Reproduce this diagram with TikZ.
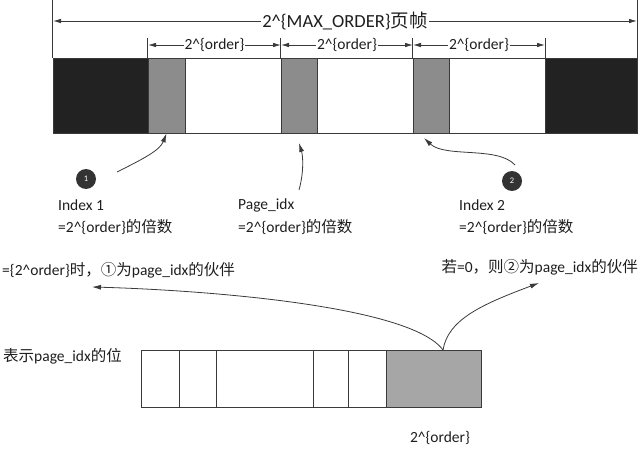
\documentclass[tikz,border=0pt]{standalone}
\usepackage{fontspec}
\setmainfont{Carlito}
\newfontfamily\cjk{Noto Sans CJK SC}
\usetikzlibrary{arrows.meta,calc}
\definecolor{linec}{HTML}{3A3A3A}
\definecolor{blk}{HTML}{222222}
\definecolor{gry}{HTML}{8C8C8C}
\definecolor{lgry}{HTML}{A6A6A6}
\definecolor{txt}{HTML}{1E1E1E}
\definecolor{badgec}{HTML}{333333}

\begin{document}
\begin{tikzpicture}[x=1pt,y=-1pt,
  cell/.style={draw=linec,line width=0.9pt,inner sep=0pt},
  lbl/.style={text=txt,font=\fontsize{15.5}{21}\selectfont,inner sep=0pt},
  tickline/.style={draw=linec,line width=0.8pt},
  dimline/.style={draw=linec,line width=0.8pt,
    {Latex[length=8pt,width=4.5pt]}-{Latex[length=8pt,width=4.5pt]}},
  ptr/.style={draw=linec,line width=0.8pt,-{Latex[length=9pt,width=5pt]}},
  badge/.style={circle,fill=badgec,text=white,minimum size=20pt,
    inner sep=0pt,font=\fontsize{8.5}{8.5}\selectfont}]

  \useasboundingbox (0,0) rectangle (642,449);

  % page frame bar
  \foreach \xa/\xb/\col/\nm in {53/148/blk/k1,148/185/gry/g1,
      185/281/white/w1,281/317/gry/g2,317/413/white/w2,
      413/449/gry/g3,449/545/white/w3,545/637/blk/k2}
    \node[cell,fill=\col,minimum width=\xb pt-\xa pt,minimum height=75pt]
      (\nm) at ({(\xa+\xb)/2},95.5) {};

  % MAX_ORDER span
  \draw[tickline] (k1.north west) -- ++(0,-58);
  \draw[tickline] (k2.north east) -- ++(0,-58);
  \coordinate (dl) at (53,21);
  \coordinate (dr) at (637,21);
  \draw[dimline] (dl) -- node[lbl,fill=white,inner xsep=1pt,
    font=\fontsize{18.5}{21}\selectfont]
    {2\textasciicircum\{MAX\_ORDER\}{\cjk 页帧}} (dr);

  % order spans
  \foreach \nm in {g1,g2,g3}
    \draw[tickline] (\nm.north west) -- ++(0,-20);
  \draw[tickline] (w3.north east) -- ++(0,-20);
  \coordinate (s0) at (148,45);
  \coordinate (s1) at (281,45);
  \coordinate (s2) at (413,45);
  \coordinate (s3) at (545,45);
  \foreach \a/\b in {s0/s1,s1/s2,s2/s3}
    \draw[dimline] (\a) -- node[lbl,fill=white,inner xsep=1pt]
      {2\textasciicircum\{order\}} (\b);

  % index labels
  \node[badge] (c1) at (86,179) {1};
  \node[badge] (c2) at (512,181) {2};
  \node[lbl,anchor=west] (i1) at (58,205) {Index 1};
  \node[lbl,anchor=west] (m1) at (58,227) {=2\textasciicircum\{order\}{\cjk 的倍数}};
  \node[lbl,anchor=west] (i0) at (238,205) {Page\_idx};
  \node[lbl,anchor=west] (m0) at (238,227) {=2\textasciicircum\{order\}{\cjk 的倍数}};
  \node[lbl,anchor=west] (i2) at (459,205) {Index 2};
  \node[lbl,anchor=west] (m2) at (459,227) {=2\textasciicircum\{order\}{\cjk 的倍数}};

  % pointers to the blocks
  \coordinate (a1) at (117,172);
  \draw[ptr] (a1) .. controls (145,158) and (160,150) .. (g1.south);
  \coordinate (a0) at (299,190);
  \coordinate (t0) at (299,143);
  \draw[ptr] (a0) .. controls (304,172) and (303,156) .. (t0);
  \coordinate (a2) at (515,165);
  \coordinate (t2) at (424,138);
  \draw[ptr] (a2) .. controls (498,146) and (445,158) .. (t2);

  % buddy notes
  \node[lbl,anchor=west] (n1) at (2,270)
    {=\{2\textasciicircum order\}{\cjk 时，①为}page\_idx{\cjk 的伙伴}};
  \node[lbl,anchor=east] (n2) at (638,267)
    {{\cjk 若}=0{\cjk ，则②为}page\_idx{\cjk 的伙伴}};

  % page_idx bits
  \node[lbl,anchor=west] (bt) at (3,356) {{\cjk 表示}page\_idx{\cjk 的位}};
  \foreach \xa/\xb/\col/\nm in {141/179/white/b1,179/216/white/b2,
      216/313/white/b3,313/348/white/b4,348/386/white/b5,386/481/lgry/b6}
    \node[cell,fill=\col,minimum width=\xb pt-\xa pt,minimum height=57pt]
      (\nm) at ({(\xa+\xb)/2},378.5) {};
  \node[lbl] (bo) at (440,438) {2\textasciicircum\{order\}};

  % buddy arrows
  \coordinate (src) at (443,350);
  \coordinate (tl) at (92,287);
  \coordinate (tr) at (539,283);
  \draw[ptr] (src) .. controls (410,305) and (200,290) .. (tl);
  \draw[ptr] (src) .. controls (448,320) and (480,305) .. (tr);
\end{tikzpicture}
\end{document}
